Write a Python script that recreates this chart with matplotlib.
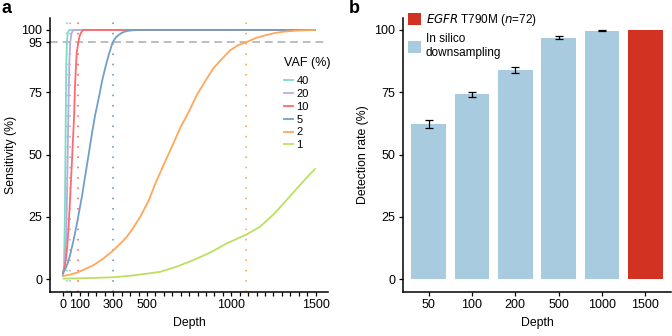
import matplotlib
matplotlib.use("Agg")
import matplotlib.pyplot as plt
from matplotlib.patches import Patch
from matplotlib.lines import Line2D

plt.rcParams['font.family'] = ['Liberation Sans', 'DejaVu Sans']

# ---------------- Panel a data ----------------
vaf_labels = ['40', '20', '10', '5', '2', '1']
vaf_colors = ['#7fdcc2', '#b6ace6', '#ff6b6b', '#719fc8', '#ffa75a', '#bbe060']

depth_40 = [0, 8, 13, 17, 21, 25, 30, 40, 1500]
sens_40 = [1, 5, 25, 55, 85, 95, 99, 100, 100]

depth_20 = [0, 10, 20, 25, 30, 35, 40, 45, 52, 63, 1500]
sens_20 = [1.5, 4, 15, 30, 50, 72, 88, 95, 98.5, 100, 100]

depth_10 = [0, 10, 20, 28, 34, 40, 45, 50, 55, 59, 67, 73, 78, 83, 93, 100, 110, 123, 1500]
sens_10 = [2, 4.4, 8.5, 13.8, 20, 27.1, 33.5, 40.5, 47, 53, 64, 77.3, 84, 90.7, 95, 97.5, 99, 100, 100]

depth_5 = [0, 15, 30, 45, 65, 85, 100, 115, 130, 154, 175, 193, 215, 233, 255, 273, 296, 315,
           332, 355, 381, 420, 460, 1500]
sens_5 = [2.5, 4, 6.5, 10, 15.8, 22.5, 28, 33.5, 40, 50, 59, 66, 73, 79.3, 85.5, 90, 95, 97,
          98, 99, 99.6, 99.9, 100, 100]

depth_2 = [0, 50, 85, 130, 183, 240, 292, 340, 381, 420, 460, 509, 550, 598, 650, 696, 750, 795,
           850, 893, 950, 992, 1040, 1085, 1150, 1210, 1260, 1308, 1400, 1500]
sens_2 = [1.3, 2, 2.7, 4, 5.7, 8.3, 11.1, 14.2, 17.1, 20.8, 25.1, 31.4, 38.5, 45.8, 53.5, 60.6,
          67.5, 73.9, 80, 84.6, 88.8, 91.8, 93.9, 95, 96.9, 98, 98.8, 99.3, 99.8, 100]

depth_1 = [0, 100, 200, 292, 381, 479, 578, 677, 775, 874, 973, 1085, 1170, 1250, 1328, 1407,
           1450, 1500]
sens_1 = [0.3, 0.4, 0.6, 0.8, 1.3, 2.1, 3.0, 5.1, 7.7, 10.7, 14.4, 17.8, 21.1, 26, 31.8, 37.8,
          41, 44.5]

depths_a = [depth_40, depth_20, depth_10, depth_5, depth_2, depth_1]
sens_a = [sens_40, sens_20, sens_10, sens_5, sens_2, sens_1]
depth_at_95 = [25, 45, 93, 296, 1085]  # for 40,20,10,5,2 %

xtick_a_labels = [0, 100, 300, 500, 1000, 1500]
ytick_a = [0, 25, 50, 75, 95, 100]

# ---------------- Panel b data ----------------
depth_cats = ['50', '100', '200', '500', '1000', '1500']
detection = [62.3, 74.2, 83.9, 96.9, 99.7, 100]
det_err = [1.5, 0.9, 1.3, 0.5, 0.2, 0]
is_observed = [False, False, False, False, False, True]

blue_bar = '#a9cbdf'
red_bar = '#d13222'

FS = 9
FS_T = 8.8
fig = plt.figure(figsize=(6.72, 3.36), dpi=100)

def style_axes(ax):
    for s in ['top', 'right']:
        ax.spines[s].set_visible(False)
    for s in ['left', 'bottom']:
        ax.spines[s].set_linewidth(1.1)
        ax.spines[s].set_color('black')
    ax.tick_params(direction='out', length=3, width=0.9, labelsize=FS, colors='black', pad=2.5)

# ---------- Panel a ----------
W, H = 672, 336
axa = fig.add_axes([50 / W, 1 - 291.8 / H, (328.3 - 50) / W, (291.8 - 17.5) / H])
axa.set_xlim(-75, 1575)
axa.set_ylim(-5, 105)
axa.axhline(95, color='#bdbdbd', lw=1.4, dashes=(4, 2.5), zorder=1)
for xv, c in zip(depth_at_95, vaf_colors[:5]):
    axa.axvline(xv, color=c, lw=1.4, dashes=(0.8, 4.5), zorder=1, alpha=0.9)
for d, s, c, lab in zip(depths_a, sens_a, vaf_colors, vaf_labels):
    axa.plot(d, s, color=c, lw=1.3, label=lab, zorder=2, solid_capstyle='butt')
style_axes(axa)
axa.set_xticks(list(range(0, 1501, 50)))
axa.set_xticklabels([str(v) if v in xtick_a_labels else '' for v in range(0, 1501, 50)])
axa.set_yticks(ytick_a)
axa.set_yticklabels([str(v) for v in ytick_a])
axa.set_xlabel('Depth', fontsize=FS_T, labelpad=4)
axa.set_ylabel('Sensitivity (%)', fontsize=FS_T, labelpad=3)
handles = [Line2D([0], [0], color=c, lw=1.3) for c in vaf_colors]
leg = axa.legend(handles, vaf_labels, title='VAF (%)', loc='upper left',
                 bbox_to_anchor=(0.803, 0.893), frameon=False, fontsize=8,
                 title_fontsize=9, handlelength=0.8, handletextpad=0.3,
                 labelspacing=0.25, borderpad=0.95, borderaxespad=0)
leg._legend_box.align = 'left'
leg._legend_box.sep = 5

# ---------- Panel b ----------
axb = fig.add_axes([402.7 / W, 1 - 291.8 / H, (671.2 - 402.7) / W, (291.8 - 17.5) / H])
xs = list(range(len(depth_cats)))
cols = [red_bar if o else blue_bar for o in is_observed]
axb.bar(xs, detection, width=0.8, color=cols, edgecolor='none', zorder=2)
ex = [x for x, o in zip(xs, is_observed) if not o]
ey = [v for v, o in zip(detection, is_observed) if not o]
ee = [e for e, o in zip(det_err, is_observed) if not o]
axb.errorbar(ex, ey, yerr=ee, fmt='none', ecolor='black', elinewidth=0.9, capsize=2.6,
             capthick=0.9, zorder=3)
axb.set_xlim(-0.6, 5.6)
axb.set_ylim(-5, 105)
style_axes(axb)
axb.set_xticks(xs)
axb.set_xticklabels(depth_cats)
axb.set_yticks([0, 25, 50, 75, 100])
axb.set_xlabel('Depth', fontsize=FS_T, labelpad=4)
axb.set_ylabel('Detection rate (%)', fontsize=FS_T, labelpad=4)
lh = [Patch(facecolor=red_bar, edgecolor='none'), Patch(facecolor=blue_bar, edgecolor='none')]
ll = [r'$\it{EGFR}$ T790M ($\it{n}$=72)', 'In silico\ndownsampling']
axb.legend(lh, ll, loc='upper left', bbox_to_anchor=(0.02, 1.02), frameon=False,
           fontsize=8.5, handlelength=1.1, handleheight=1.15, handletextpad=0.4,
           labelspacing=0.45, borderpad=0, borderaxespad=0)

fig.text(1 / W, 1 - 0 / H, 'a', fontsize=13, fontweight='bold', va='top', ha='left')
fig.text(349 / W, 1 - 0 / H, 'b', fontsize=13, fontweight='bold', va='top', ha='left')

fig.savefig('out.png', dpi=100)
